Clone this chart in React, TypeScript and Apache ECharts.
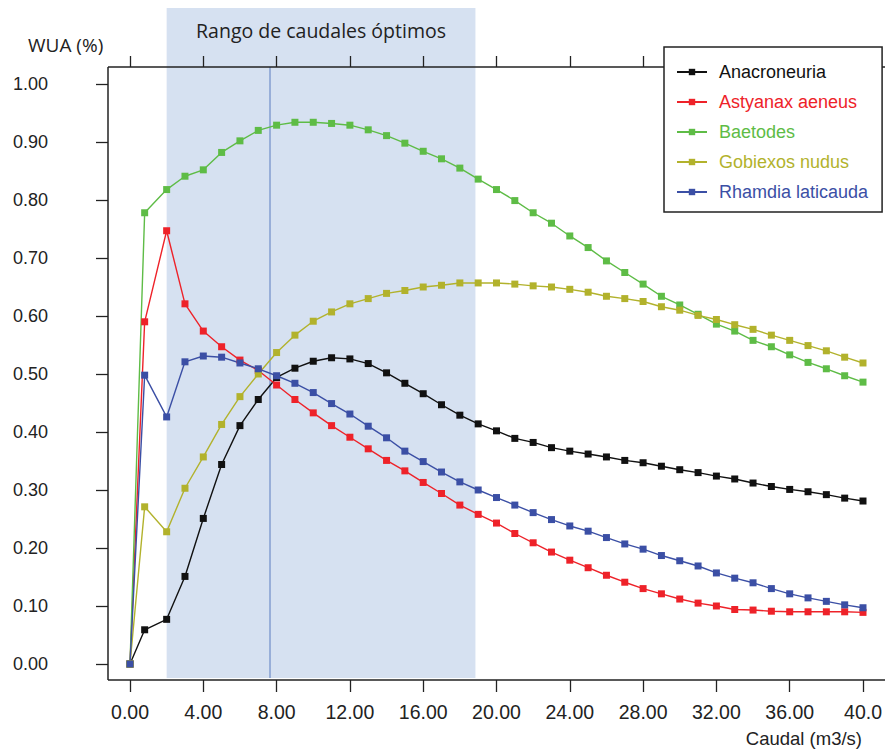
import React, { useEffect, useRef } from "react";
import * as echarts from "echarts";

// Caudal (m3/s) at which each WUA value was computed
const xValues = [0, 0.8, 2, 3, 4, 5, 6, 7, 8, 9, 10, 11, 12, 13, 14, 15, 16, 17, 18, 19, 20, 21, 22, 23, 24, 25, 26, 27, 28, 29, 30, 31, 32, 33, 34, 35, 36, 37, 38, 39, 40];

const anacroneuria = [0, 0.059, 0.077, 0.151, 0.251, 0.344, 0.411, 0.456, 0.494, 0.51, 0.522, 0.528, 0.526, 0.518, 0.502, 0.484, 0.466, 0.447, 0.429, 0.414, 0.402, 0.389, 0.382, 0.373, 0.367, 0.362, 0.357, 0.351, 0.347, 0.341, 0.335, 0.33, 0.324, 0.319, 0.312, 0.306, 0.301, 0.297, 0.292, 0.286, 0.281];
const astyanax = [0, 0.59, 0.747, 0.621, 0.574, 0.547, 0.524, 0.506, 0.481, 0.456, 0.433, 0.411, 0.391, 0.371, 0.351, 0.333, 0.313, 0.294, 0.274, 0.258, 0.243, 0.225, 0.209, 0.193, 0.179, 0.166, 0.153, 0.141, 0.13, 0.121, 0.112, 0.105, 0.1, 0.094, 0.093, 0.091, 0.09, 0.09, 0.09, 0.09, 0.089];
const baetodes = [0, 0.778, 0.818, 0.841, 0.852, 0.882, 0.902, 0.92, 0.929, 0.934, 0.934, 0.932, 0.929, 0.921, 0.911, 0.898, 0.884, 0.871, 0.855, 0.836, 0.818, 0.799, 0.778, 0.76, 0.738, 0.718, 0.695, 0.675, 0.655, 0.634, 0.619, 0.603, 0.586, 0.574, 0.558, 0.547, 0.533, 0.52, 0.509, 0.497, 0.486];
const gobiexos = [0, 0.271, 0.228, 0.303, 0.357, 0.413, 0.461, 0.5, 0.537, 0.567, 0.591, 0.607, 0.621, 0.63, 0.639, 0.644, 0.65, 0.653, 0.657, 0.657, 0.657, 0.655, 0.652, 0.65, 0.646, 0.641, 0.634, 0.63, 0.625, 0.616, 0.61, 0.601, 0.594, 0.585, 0.577, 0.567, 0.558, 0.549, 0.54, 0.529, 0.519];
const rhamdia = [0, 0.498, 0.426, 0.521, 0.531, 0.529, 0.519, 0.509, 0.497, 0.484, 0.468, 0.449, 0.431, 0.41, 0.39, 0.367, 0.349, 0.331, 0.314, 0.3, 0.287, 0.274, 0.261, 0.249, 0.238, 0.229, 0.218, 0.207, 0.198, 0.187, 0.178, 0.169, 0.157, 0.148, 0.14, 0.13, 0.121, 0.114, 0.108, 0.102, 0.097];

const seriesNames = ["Anacroneuria", "Astyanax aeneus", "Baetodes", "Gobiexos nudus", "Rhamdia laticauda"];
const seriesValues = [anacroneuria, astyanax, baetodes, gobiexos, rhamdia];
const seriesColors = ["#111111", "#EE2229", "#5EBC46", "#B2B22C", "#3B4FA5"];

const optimalRange = [2, 18.85];
const referenceFlow = 7.64;

const titleText = "Rango de caudales óptimos";
const yTitle = "WUA (%)";
const xTitle = "Caudal (m3/s)";

const GRID_LEFT = 130;
const GRID_RIGHT = 22;
const GRID_TOP = 84;
const GRID_BOTTOM = 86;
const W = 885;
const H = 750;

const sansFont = '"Liberation Sans", Arial, sans-serif';
const humanFont = '"Open Sans", "Noto Sans", sans-serif';

export default function App() {
  const ref = useRef<HTMLDivElement>(null);

  useEffect(() => {
    const chart = echarts.init(ref.current!, null, { renderer: "svg" });

    const series = seriesNames.map((name, i) => ({
      name,
      type: "line",
      data: xValues.map((x, j) => [x, seriesValues[i][j]]),
      symbol: "rect",
      symbolSize: 7,
      showSymbol: true,
      showAllSymbol: true,
      clip: false,
      z: 3,
      lineStyle: { color: seriesColors[i], width: 1.4 },
      itemStyle: { color: seriesColors[i] },
    }));

    const tickStyle = { color: "#222", width: 1.3 };

    chart.setOption({
      animation: false,
      grid: {
        left: GRID_LEFT,
        right: GRID_RIGHT,
        top: GRID_TOP,
        bottom: GRID_BOTTOM,
        containLabel: false,
        outerBoundsMode: "none",
      },
      xAxis: [
        {
          type: "value",
          min: 0,
          max: 40,
          interval: 4,
          position: "bottom",
          offset: 16,
          axisLine: { show: false, onZero: false },
          axisTick: { show: true, length: 12, lineStyle: tickStyle },
          axisLabel: {
            margin: 22,
            fontFamily: sansFont,
            fontSize: 19.5,
            color: "#222",
            formatter: (v: number) => (v === 40 ? "40.0" : v.toFixed(2)),
          },
          splitLine: { show: false },
        },
        {
          type: "value",
          min: 0,
          max: 40,
          interval: 4,
          position: "top",
          offset: 17,
          axisLine: { show: false, onZero: false },
          axisTick: { show: true, length: 11, lineStyle: tickStyle },
          axisLabel: { show: false },
          splitLine: { show: false },
        },
      ],
      yAxis: {
        type: "value",
        min: 0,
        max: 1,
        interval: 0.1,
        offset: 22,
        axisLine: { show: false, onZero: false },
        axisTick: { show: true, length: 12, lineStyle: tickStyle },
        axisLabel: {
          margin: 60,
          fontFamily: sansFont,
          fontSize: 18,
          color: "#222",
          formatter: (v: number) => v.toFixed(2),
        },
        splitLine: { show: false },
      },
      legend: {
        orient: "vertical",
        left: 664,
        top: 47,
        z: 20,
        padding: [16, 14, 11, 12],
        itemGap: 12,
        itemWidth: 30,
        itemHeight: 8,
        borderColor: "#222",
        borderWidth: 1.5,
        backgroundColor: "#fff",
        textStyle: { fontFamily: sansFont, fontSize: 18, padding: [0, 0, 0, 7] },
        data: seriesNames.map((name, i) => ({ name, textStyle: { color: seriesColors[i] } })),
      },
      series,
    });

    const px = (x: number) => chart.convertToPixel({ gridIndex: 0 }, [x, 0])[0];
    const x0 = px(optimalRange[0]);
    const x1 = px(optimalRange[1]);
    const xr = px(referenceFlow);
    const frameLeft = GRID_LEFT - 22;
    const frameTop = GRID_TOP - 17;
    const frameBottom = H - GRID_BOTTOM + 16;
    const lineStyle = { stroke: "#222", lineWidth: 1.5 };

    chart.setOption({
      graphic: [
        {
          type: "rect",
          z: 0,
          shape: { x: x0, y: 8, width: x1 - x0, height: frameBottom - 2 - 8 },
          style: { fill: "#D6E1F1" },
          silent: true,
        },
        {
          type: "line",
          z: 1,
          shape: { x1: xr, y1: frameTop, x2: xr, y2: frameBottom - 2 },
          style: { stroke: "#6F8DC9", lineWidth: 1.2 },
          silent: true,
        },
        {
          type: "line",
          z: 5,
          shape: { x1: frameLeft, y1: frameTop, x2: frameLeft, y2: frameBottom },
          style: lineStyle,
          silent: true,
        },
        {
          type: "line",
          z: 5,
          shape: { x1: frameLeft, y1: frameTop, x2: W, y2: frameTop },
          style: lineStyle,
          silent: true,
        },
        {
          type: "line",
          z: 5,
          shape: { x1: frameLeft, y1: frameBottom, x2: W, y2: frameBottom },
          style: lineStyle,
          silent: true,
        },
        {
          type: "text",
          z: 6,
          style: {
            text: titleText,
            x: (x0 + x1) / 2,
            y: 30,
            align: "center",
            verticalAlign: "middle",
            fontFamily: humanFont,
            fontSize: 19.5,
            fill: "#222",
          },
        },
        {
          type: "text",
          z: 6,
          style: {
            text: yTitle,
            x: 28,
            y: 45,
            align: "left",
            verticalAlign: "middle",
            fontFamily: humanFont,
            fontSize: 19,
            fill: "#222",
          },
        },
        {
          type: "text",
          z: 6,
          style: {
            text: xTitle,
            x: 862,
            y: 738,
            align: "right",
            verticalAlign: "middle",
            fontFamily: sansFont,
            fontSize: 18.5,
            fill: "#222",
          },
        },
      ],
    });

    return () => chart.dispose();
  }, []);

  return (
    <div
      ref={ref}
      style={{ position: "absolute", left: 0, top: 0, width: W, height: H }}
    />
  );
}
